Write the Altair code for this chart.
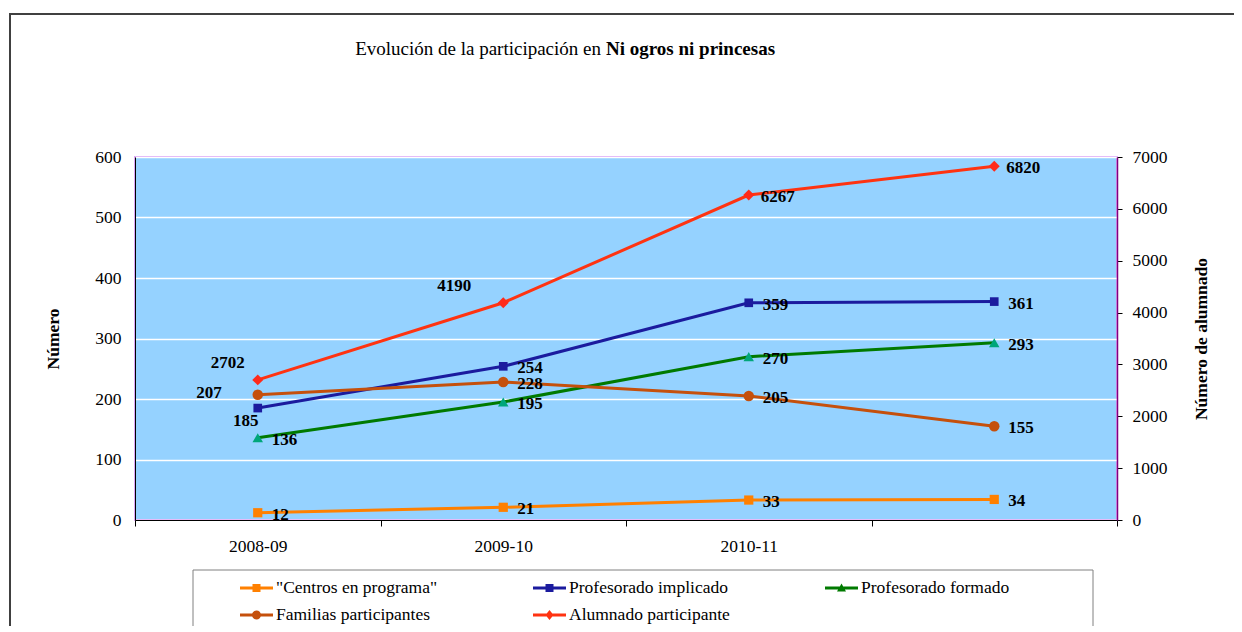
import altair as alt
import pandas as pd

# ---------------- data ----------------
categorias = ["2008-09", "2009-10", "2010-11", ""]
series = ['"Centros en programa"', "Profesorado implicado", "Profesorado formado",
          "Familias participantes", "Alumnado participante"]
centros = [12, 21, 33, 34]
prof_implicado = [185, 254, 359, 361]
prof_formado = [136, 195, 270, 293]
familias = [207, 228, 205, 155]
alumnado = [2702, 4190, 6267, 6820]

# ---------------- styles ----------------
FONT = "Liberation Serif"
colores_linea = ["#FF8000", "#1B1B9E", "#007A00", "#C5500C", "#FF3311"]
colores_marca = ["#FF8000", "#1B1B9E", "#00A67A", "#C5500C", "#FF2A1A"]
formas = ["square", "square", "triangle-up", "circle", "diamond"]
tamanos = [85, 75, 110, 110, 120]

LINE = "M-1,-0.15L2.3,-0.15L2.3,0.15L-1,0.15Z"
simbolos_leyenda = [
    LINE + " M0.25,-0.4L1.05,-0.4L1.05,0.4L0.25,0.4Z",
    LINE + " M0.25,-0.4L1.05,-0.4L1.05,0.4L0.25,0.4Z",
    LINE + " M0.65,-0.45L1.1,0.35L0.2,0.35Z",
    LINE + " M0.2,0A0.45,0.45 0 1,1 1.1,0A0.45,0.45 0 1,1 0.2,0Z",
    LINE + " M0.65,-0.5L1.05,0L0.65,0.5L0.25,0Z",
]

rows = []
for nombre, vals in zip(series, [centros, prof_implicado, prof_formado, familias, alumnado]):
    for c, v in zip(categorias, vals):
        rows.append({"categoria": c, "serie": nombre, "valor": v, "etiqueta": str(v)})
df = pd.DataFrame(rows)
df_left = df[df["serie"] != series[4]]
df_right = df[df["serie"] == series[4]]

x_enc = alt.X(
    "categoria:N",
    scale=alt.Scale(type="band", domain=categorias, paddingInner=0, paddingOuter=0),
    bandPosition=0.5,
    axis=alt.Axis(title=None, labelAngle=0, tickBand="extent", tickSize=6, tickColor="black",
                  domainColor="black", labelFont=FONT, labelFontSize=17.5, labelColor="black",
                  labelPadding=11, grid=False),
)
y_left = alt.Y(
    "valor:Q",
    scale=alt.Scale(domain=[0, 600]),
    axis=alt.Axis(title="Número", values=list(range(0, 601, 100)), grid=True, gridColor="white",
                  gridWidth=1.5, ticks=False, domainColor="black", labelFont=FONT,
                  labelFontSize=17.5, labelColor="black", labelPadding=14, format="d",
                  titleFont=FONT, titleFontSize=17.5, titleFontWeight="bold", titleColor="black",
                  titlePadding=32),
)
y_right = alt.Y(
    "valor:Q",
    scale=alt.Scale(domain=[0, 7000]),
    axis=alt.Axis(orient="right", title="Número de alumnado", values=list(range(0, 7001, 1000)),
                  grid=False, tickColor="black", tickSize=5, domainColor="#800080",
                  domainWidth=1.5, labelFont=FONT, labelFontSize=17.5, labelColor="black",
                  labelPadding=10, format="d", titleFont=FONT, titleFontSize=17.5,
                  titleFontWeight="bold", titleColor="black", titleAngle=270, titlePadding=43),
)
color_scale = alt.Scale(domain=series, range=colores_linea)

leg = alt.Legend(title=None, orient="none", legendX=105, legendY=421, columns=3,
                 columnPadding=95, rowPadding=7, clipHeight=20, padding=0,
                 symbolSize=400, symbolStrokeWidth=0, symbolOpacity=1,
                 labelFont=FONT, labelFontSize=17.5, labelColor="black", labelOffset=16,
                 labelLimit=300, direction="horizontal")

one = alt.Data(values=[{}])

frame = alt.Chart(one).mark_rect(fillOpacity=0, stroke="#404040", strokeWidth=2).encode(
    x=alt.value(-125), x2=alt.value(1300), y=alt.value(-143), y2=alt.value(600))
legend_box = alt.Chart(one).mark_rect(fillOpacity=0, stroke="#808080", strokeWidth=1).encode(
    x=alt.value(58), x2=alt.value(958), y=alt.value(413), y2=alt.value(600))
title_a = alt.Chart(one).mark_text(text="Evolución de la participación en", font=FONT, fontSize=19,
                                   align="right", baseline="alphabetic", color="black").encode(
    x=alt.value(466), y=alt.value(-102))
title_b = alt.Chart(one).mark_text(text="Ni ogros ni princesas", font=FONT, fontSize=19,
                                   fontWeight="bold", align="left", baseline="alphabetic",
                                   color="black").encode(
    x=alt.value(471), y=alt.value(-102))

lines_left = [
    alt.Chart(df_left).transform_filter(alt.datum.serie == series[i]).mark_line(
        strokeWidth=3, color=colores_linea[i]).encode(x=x_enc, y=y_left)
    for i in range(4)
]
points_left = [
    alt.Chart(df_left).transform_filter(alt.datum.serie == series[i]).mark_point(
        filled=True, shape=formas[i], size=tamanos[i], color=colores_marca[i], opacity=1
    ).encode(x=x_enc, y=y_left)
    for i in range(4)
]

txt_style = dict(font=FONT, fontSize=17, fontWeight="bold", color="black", baseline="middle")
c0 = categorias[0]
default_filter = (f"datum.categoria != '{c0}' || (datum.serie != '{series[1]}' "
                  f"&& datum.serie != '{series[3]}')")
text_left = alt.Chart(df_left).transform_filter(default_filter).mark_text(
    align="left", dx=14, dy=2, **txt_style).encode(x=x_enc, y=y_left, text="etiqueta:N")
text_fam0 = alt.Chart(df_left).transform_filter(
    f"datum.categoria == '{c0}' && datum.serie == '{series[3]}'").mark_text(
    align="right", dx=-36, dy=-2, **txt_style).encode(x=x_enc, y=y_left, text="etiqueta:N")
text_imp0 = alt.Chart(df_left).transform_filter(
    f"datum.categoria == '{c0}' && datum.serie == '{series[1]}'").mark_text(
    align="center", dx=-12, dy=13, **txt_style).encode(x=x_enc, y=y_left, text="etiqueta:N")

legend_layer = alt.Chart(df_left).mark_point(filled=True, opacity=0, size=400).encode(
    x=x_enc, y=y_left,
    color=alt.Color("serie:N", scale=color_scale, legend=leg),
    shape=alt.Shape("serie:N", scale=alt.Scale(domain=series, range=simbolos_leyenda), legend=leg),
)

left = alt.layer(frame, legend_box, title_a, title_b, *lines_left, *points_left,
                 text_left, text_fam0, text_imp0, legend_layer)

c1 = categorias[1]
line_right = alt.Chart(df_right).mark_line(strokeWidth=3, color=colores_linea[4]).encode(
    x=x_enc, y=y_right)
point_right = alt.Chart(df_right).mark_point(
    filled=True, shape=formas[4], size=tamanos[4], color=colores_marca[4], opacity=1
).encode(x=x_enc, y=y_right)
text_right = alt.Chart(df_right).transform_filter(
    f"datum.categoria != '{c0}' && datum.categoria != '{c1}'").mark_text(
    align="left", dx=12, dy=2, **txt_style).encode(x=x_enc, y=y_right, text="etiqueta:N")
text_r0 = alt.Chart(df_right).transform_filter(f"datum.categoria == '{c0}'").mark_text(
    align="center", dx=-30, dy=-17, **txt_style).encode(x=x_enc, y=y_right, text="etiqueta:N")
text_r1 = alt.Chart(df_right).transform_filter(f"datum.categoria == '{c1}'").mark_text(
    align="center", dx=-49, dy=-17, **txt_style).encode(x=x_enc, y=y_right, text="etiqueta:N")

right = alt.layer(line_right, point_right, text_right, text_r0, text_r1)

chart = alt.layer(left, right).resolve_scale(y="independent").properties(
    width=982, height=363,
    autosize=alt.AutoSizeParams(type="none"),
    padding={"left": 127, "top": 149, "right": 117, "bottom": 106},
).configure_view(fill="#95D2FF", stroke="#DDA6F7", strokeWidth=2)

chart.save("out.html", embed_options={"renderer": "svg", "actions": False})
